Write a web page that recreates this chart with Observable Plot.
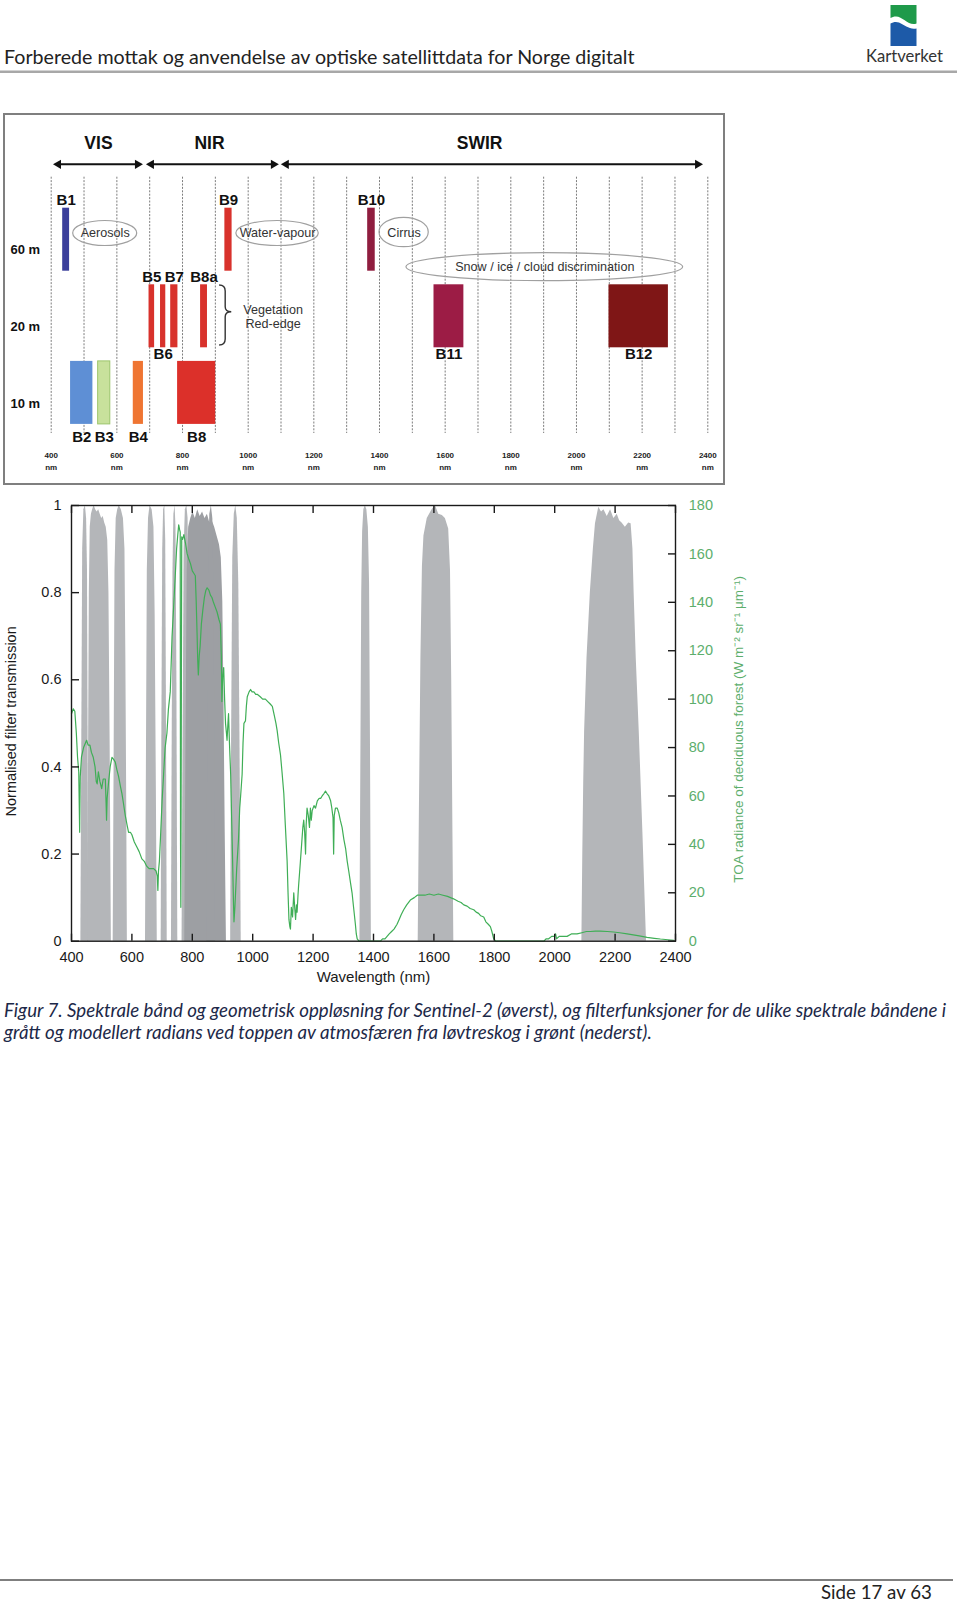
<!DOCTYPE html>
<html>
<head>
<meta charset="utf-8">
<script src="https://cdn.jsdelivr.net/npm/d3@7"></script>
<script src="https://cdn.jsdelivr.net/npm/@observablehq/plot@0.6"></script>
<style>
html, body { margin: 0; padding: 0; background: #fff; }
#page { position: relative; width: 960px; height: 1604px; overflow: hidden; background: #fff; }
#overlay { position: absolute; left: 0; top: 0; }
#upper { position: absolute; left: 3px; top: 113px; border: 2px solid #7f7f7f; width: 718px; height: 368px; }
#lower { position: absolute; left: 0; top: 487px; width: 760px; height: 500px; }
#upper svg, #lower svg { display: block; overflow: visible; }
</style>
</head>
<body>
<div id="page">
  <svg id="overlay" width="960" height="1604" xmlns="http://www.w3.org/2000/svg"></svg>
  <div id="upper"></div>
  <div id="lower"></div>
</div>
<script>
// ---------------- Page texts ----------------
const headerTitle = "Forberede mottak og anvendelse av optiske satellittdata for Norge digitalt";
const logoName = "Kartverket";
const captionLines = [
  "Figur 7. Spektrale bånd og geometrisk oppløsning for Sentinel-2 (øverst), og filterfunksjoner for de ulike spektrale båndene i",
  "grått og modellert radians ved toppen av atmosfæren fra løvtreskog i grønt (nederst)."
];
const footerText = "Side 17 av 63";

// ---------------- Upper panel data: Sentinel-2 bands ----------------
const bandNames      = ["B1", "B2", "B3", "B4", "B5", "B6", "B7", "B8", "B8a", "B9", "B10", "B11", "B12"];
const bandResolution = ["60 m", "10 m", "10 m", "10 m", "20 m", "20 m", "20 m", "10 m", "20 m", "60 m", "60 m", "20 m", "20 m"];
const bandStart      = [435, 459, 543, 650, 698, 733, 764, 785, 855, 929, 1364, 1566, 2099];
const bandEnd        = [456, 527, 580, 681, 715, 749, 786, 901, 876, 951, 1387, 1657, 2280];
const labelsAbove    = ["B1", "B9", "B10", "B5", "B7", "B8a"];
const resolutionRows = ["60 m", "20 m", "10 m"];

const regionNames   = ["VIS", "NIR", "SWIR"];
const regionStart   = [407, 690, 1101];
const regionEnd     = [681, 1095, 2387];
const regionLabelAt = [544, 882, 1705];

const gridWavelengths = [400, 500, 600, 700, 800, 900, 1000, 1100, 1200, 1300, 1400, 1500, 1600, 1700, 1800, 1900, 2000, 2100, 2200, 2300, 2400];
const upperTickWavelengths = [400, 600, 800, 1000, 1200, 1400, 1600, 1800, 2000, 2200, 2400];

const ellipseLabels = ["Aerosols", "Water-vapour", "Cirrus", "Snow / ice / cloud discrimination"];
const ellipseFrom   = [467, 964, 1400, 1482];
const ellipseTo     = [662, 1215, 1550, 2325];
const ellipseRow    = ["60 m", "60 m", "60 m", "20 m"];

const redEdgeLabel  = "Vegetation\nRed-edge";
const redEdgeLabelAt = 1076;
const redEdgeBrace  = [913, 950];

// ---------------- Lower panel data ----------------
const filterB1  = [[431,0],[434,0.45],[437,0.9],[441,0.99],[446,1.0],[450,0.97],[453,0.85],[455,0.45],[457,0]];
const filterB2  = [[453,0],[456,0.35],[459,0.8],[462,0.95],[466,0.98],[470,0.99],[475,1.0],[480,0.99],[485,0.985],[490,0.99],[495,0.98],[500,0.97],[505,0.975],[510,0.96],[515,0.95],[520,0.92],[524,0.8],[528,0.45],[532,0]];
const filterB3  = [[538,0],[541,0.4],[544,0.85],[548,0.97],[553,0.99],[558,1.0],[565,0.99],[572,0.97],[577,0.9],[580,0.65],[583,0.3],[585,0]];
const filterB4  = [[645,0],[648,0.4],[651,0.85],[655,0.97],[660,1.0],[667,0.99],[673,0.95],[677,0.75],[681,0.35],[684,0]];
const filterB5  = [[697,0],[699,0.45],[702,0.9],[705,0.99],[709,1.0],[712,0.92],[714,0.6],[716,0.2],[717,0]];
const filterB6  = [[731,0],[733,0.4],[736,0.85],[739,0.98],[743,1.0],[746,0.95],[749,0.6],[751,0.2],[752,0]];
const filterB7  = [[766,0],[769,0.4],[773,0.9],[777,0.99],[782,1.0],[786,0.97],[789,0.75],[792,0.3],[794,0]];
const filterB8  = [[775,0],[779,0.45],[783,0.85],[788,0.95],[795,0.97],[802,0.985],[810,0.97],[818,0.99],[826,0.975],[834,0.985],[842,0.97],[850,0.98],[858,0.96],[866,0.965],[874,0.95],[882,0.93],[890,0.91],[896,0.88],[901,0.78],[905,0.55],[909,0.25],[913,0]];
const filterB8a = [[848,0],[851,0.45],[854,0.88],[858,0.98],[863,1.0],[868,0.97],[872,0.8],[875,0.4],[877,0]];
const filterB9  = [[927,0],[930,0.45],[934,0.88],[939,0.98],[944,1.0],[949,0.97],[954,0.82],[958,0.45],[962,0]];
const filterB10 = [[1355,0],[1358,0.4],[1361,0.8],[1364,0.94],[1368,0.99],[1373,1.0],[1378,0.99],[1383,0.95],[1387,0.82],[1390,0.45],[1393,0]];
const filterB11 = [[1548,0],[1552,0.3],[1557,0.65],[1562,0.86],[1567,0.93],[1578,0.97],[1594,0.99],[1605,1.0],[1616,0.98],[1628,0.977],[1638,0.97],[1649,0.946],[1655,0.85],[1659,0.6],[1663,0.25],[1666,0]];
const filterB12 = [[2090,0],[2093,0.2],[2096,0.36],[2099,0.48],[2107,0.65],[2118,0.8],[2128,0.9],[2135,0.958],[2146,0.996],[2155,0.985],[2163,0.99],[2174,0.975],[2185,0.99],[2196,0.97],[2207,0.98],[2215,0.965],[2223,0.96],[2234,0.95],[2245,0.96],[2253,0.958],[2259,0.9],[2263,0.8],[2270,0.65],[2280,0.48],[2292,0.25],[2304,0]];
const darkFilterBands = ["B8", "B8a"];

// TOA radiance of deciduous forest, [wavelength nm, W m-2 sr-1 um-1]
const radiance = [
[400,94],[406,96],[411,95],[416,86],[420,76],[424,70],[427,45],[429,68],[433,76],[440,80],[450,83],[455,81],[461,81],[466,78],[472,76],[478,72],[482,66],[485,65],[489,70],[494,66],[500,63],[505,67],[512,67],[515,55],[516,50],[518,59],[523,66],[528,72],[534,76],[540,75],[545,74],[550,71],[556,68],[562,64],[567,61],[572,57],[578,52],[584,48],[589,45],[595,45],[600,44],[608,41],[616,39],[624,37],[633,34],[641,33],[649,31],[657,30],[666,30],[672,30],[680,29],[684,27],[686,21],[688,29],[691,33],[694,41],[700,58],[705,69],[710,80],[716,86],[721,96],[727,103],[733,126],[739,140],[744,152],[748,162],[752,168],[755,172],[758,170],[760,169],[761,40],[762,14],[763,60],[765,167],[768,166],[772,168],[778,164],[783,160],[788,158],[794,156],[800,153],[805,152],[810,151],[813,140],[816,126],[818,116],[820,110],[823,118],[826,122],[830,131],[835,137],[840,142],[845,145],[849,146],[855,145],[860,143],[865,142],[870,140],[876,138],[882,136],[888,133],[893,131],[896,118],[898,99],[901,110],[904,113],[907,100],[910,90],[913,86],[915,83],[918,90],[920,94],[923,82],[927,69],[930,52],[933,36],[936,18],[938,8],[941,14],[944,22],[947,30],[949,34],[953,42],[957,55],[960,60],[965,69],[968,82],[971,90],[976,91],[979,97],[982,101],[988,103],[993,104],[998,103],[1004,103],[1010,102],[1015,102],[1025,101],[1033,100],[1042,100],[1050,99],[1058,98],[1065,97],[1072,93],[1077,90],[1081,87],[1086,82],[1092,77],[1097,70],[1103,61],[1108,48],[1114,33],[1117,20],[1120,9],[1123,6],[1125,5],[1128,14],[1132,10],[1136,20],[1139,14],[1142,9],[1145,15],[1147,12],[1150,19],[1152,23],[1155,28],[1158,33],[1162,40],[1166,47],[1169,50],[1172,45],[1175,36],[1177,48],[1180,55],[1184,52],[1188,47],[1191,55],[1194,50],[1197,54],[1203,56],[1208,55],[1214,58],[1220,59],[1225,59],[1230,60],[1236,61],[1241,62],[1246,61],[1252,60],[1258,58],[1262,55],[1266,51],[1268,36],[1270,52],[1274,55],[1280,55],[1285,53],[1290,50],[1296,47],[1302,42],[1308,38],[1313,33],[1318,29],[1324,24],[1329,20],[1334,14],[1340,7],[1343,3],[1346,1],[1352,0],[1380,0],[1423,0],[1430,1],[1438,1],[1445,2],[1452,3],[1460,4],[1468,5],[1478,7],[1485,9],[1492,11],[1500,13],[1510,15],[1522,17],[1535,18],[1545,19],[1556,19],[1570,19],[1585,19.5],[1600,19],[1615,19.5],[1630,19],[1645,18.5],[1655,18],[1665,17.5],[1680,16.5],[1690,16],[1699,15],[1710,14.5],[1720,13.5],[1732,13],[1740,12],[1748,11.5],[1755,10.5],[1765,10],[1772,8],[1780,7],[1787,6],[1792,4],[1798,1],[1805,0],[1964,0],[1972,1],[1980,1],[1990,2],[1998,2],[2003,3],[2006,1],[2015,2],[2025,2],[2041,2],[2055,3],[2074,3],[2090,3.5],[2105,4],[2118,4],[2135,4.2],[2150,4.2],[2174,4],[2195,3.8],[2215,3.5],[2240,3],[2260,2.6],[2280,2.2],[2306,1.6],[2330,1.2],[2350,0.9],[2375,0.6],[2394,0.4]
];
const radianceMax = 180;
const lowerXTicks = [400, 600, 800, 1000, 1200, 1400, 1600, 1800, 2000, 2200, 2400];
const transmissionTicks = [0, 0.2, 0.4, 0.6, 0.8, 1];
const radianceTicks = [0, 20, 40, 60, 80, 100, 120, 140, 160, 180];
const xLabel = "Wavelength (nm)";
const yLabel = "Normalised filter transmission";
const y2Label = "TOA radiance of deciduous forest (W m\u207B\u00B2 sr\u207B\u00B9 \u03BCm\u207B\u00B9)";

// ---------------- Styles ----------------
const FONT = "'Liberation Sans', Arial, Helvetica, sans-serif";
const PAGEFONT = "Lato, 'Open Sans', sans-serif";
const bandFill = {B1: "#3b3f9b", B2: "#5e8fd5", B3: "#c8e19c", B4: "#ef7532", B5: "#d8322c", B6: "#d8322c", B7: "#d8322c",
  B8: "#dc302a", B8a: "#d8322c", B9: "#d8322c", B10: "#8f1d3f", B11: "#9c1c45", B12: "#7f1616"};
const GREEN = "#3fae56";
const GREEN_TEXT = "#5cae6c";

// ---------------- Page overlay (header, caption, footer) ----------------
const NS = "http://www.w3.org/2000/svg";
const ov = document.getElementById("overlay");
function el(name, attrs) {
  const e = document.createElementNS(NS, name);
  for (const k in attrs) e.setAttribute(k, attrs[k]);
  ov.appendChild(e);
  return e;
}
function fitText(str, x, y, width, attrs) {
  const t = el("text", Object.assign({x, y, "font-size": 20}, attrs));
  t.textContent = str;
  const w = t.getComputedTextLength();
  const size = 20 * width / w;
  t.setAttribute("font-size", size);
  return size;
}
fitText(headerTitle, 4, 63.5, 631, {"font-family": PAGEFONT, fill: "#222"});
el("line", {x1: 0, x2: 957, y1: 71.8, y2: 71.8, stroke: "#a8a8a8", "stroke-width": 2.6});
el("path", {d: "M890.5,5L916.5,5L916.5,23.5C909,26.5 903,16.5 896,16.5C893.8,16.5 892,17.2 890.5,18Z", fill: "#1f9a4a"});
el("path", {d: "M890.5,23.5C893,22 896,21.5 899,22.5C905,25 909.5,30 916.5,28.5L916.5,46L890.5,46Z", fill: "#1d5aa8"});
fitText(logoName, 866, 62, 77, {"font-family": PAGEFONT, fill: "#333"});
const capSize = fitText(captionLines[0], 4, 1016.5, 943, {"font-family": PAGEFONT, "font-style": "italic", fill: "#1c2848"});
const cap2 = el("text", {x: 4, y: 1039, "font-size": capSize, "font-family": PAGEFONT, "font-style": "italic", fill: "#1c2848"});
cap2.textContent = captionLines[1];
el("line", {x1: 0, x2: 953, y1: 1580, y2: 1580, stroke: "#555", "stroke-width": 1.3});
fitText(footerText, 821, 1598.5, 111, {"font-family": PAGEFONT, fill: "#222"});

// ---------------- Upper panel ----------------
const bands = bandNames.map((b, i) => ({band: b, res: bandResolution[i], start: bandStart[i], end: bandEnd[i]}));
const regions = regionNames.map((n, i) => ({name: n, start: regionStart[i], end: regionEnd[i], labelAt: regionLabelAt[i]}));
const ellipses = ellipseLabels.map((l, i) => ({label: l, from: ellipseFrom[i], to: ellipseTo[i], row: ellipseRow[i]}));
const ellipseOffset = [-6.2, -6.2, -7.2, -49.1];
const ellipseRy = [12.5, 12.5, 14.7, 14];

function upperAnnotations(index, scales, values, dimensions) {
  const x = scales.x, y = scales.y;
  const bw = y && typeof y.bandwidth === "function" ? y.bandwidth() : 63;
  const rowMid = r => y(r) + bw / 2;
  const top = dimensions.marginTop;
  const g = d3.create("svg:g");
  const ay = top - 43.4;
  for (const r of regions) {
    const x0 = x(r.start), x1 = x(r.end), h = 8, w = 4.6;
    g.append("line").attr("x1", x0 + h - 1).attr("x2", x1 - h + 1).attr("y1", ay).attr("y2", ay)
      .attr("stroke", "#111").attr("stroke-width", 2);
    g.append("path").attr("d", `M${x0},${ay}L${x0 + h},${ay - w}L${x0 + h},${ay + w}Z`).attr("fill", "#111");
    g.append("path").attr("d", `M${x1},${ay}L${x1 - h},${ay - w}L${x1 - h},${ay + w}Z`).attr("fill", "#111");
  }
  ellipses.forEach((e, i) => {
    const cx = (x(e.from) + x(e.to)) / 2, rx = (x(e.to) - x(e.from)) / 2;
    g.append("ellipse").attr("cx", cx).attr("cy", rowMid(e.row) + ellipseOffset[i])
      .attr("rx", rx).attr("ry", ellipseRy[i]).attr("fill", "none").attr("stroke", "#a0a0a0").attr("stroke-width", 1.2);
  });
  const c = rowMid("20 m");
  const bx0 = x(redEdgeBrace[0]), bx1 = x(redEdgeBrace[1]), bxm = (bx0 + bx1) / 2;
  const yT = c - 30.8, yC = c - 4, yB = c + 29.2;
  g.append("path")
    .attr("d", `M${bx0},${yT}Q${bxm},${yT} ${bxm},${yT + 6}L${bxm},${yC - 5}Q${bxm},${yC} ${bx1},${yC}Q${bxm},${yC} ${bxm},${yC + 5}L${bxm},${yB - 6}Q${bxm},${yB} ${bx0},${yB}`)
    .attr("fill", "none").attr("stroke", "#333").attr("stroke-width", 1.4);
  return g.node();
}

const above = d => labelsAbove.includes(d.band);
const bandLabel = {x: d => (d.start + d.end) / 2, y: "res", text: "band", fontSize: 15, fontWeight: "bold", fill: "#111"};
const upper = Plot.plot({
  width: 718, height: 368,
  marginLeft: 45.7, marginRight: 15.7, marginTop: 92.7, marginBottom: 59.1,
  x: {domain: [400, 2400], axis: null},
  y: {type: "band", domain: resolutionRows, paddingInner: 0.1775, paddingOuter: 0, round: false, axis: null},
  color: {type: "identity"},
  style: {fontFamily: FONT, background: "transparent", color: "#111"},
  marks: [
    Plot.ruleX(gridWavelengths, {x: d => d, stroke: "#7d7d7d", strokeWidth: 1, strokeDasharray: "2,1.4", insetTop: -31, insetBottom: -9.1}),
    upperAnnotations,
    Plot.barX(bands, {x1: "start", x2: "end", y: "res", fill: d => bandFill[d.band]}),
    Plot.barX(bands.filter(d => d.band === "B3"), {x1: "start", x2: "end", y: "res", fill: "none", stroke: "#9cc56c", strokeWidth: 1}),
    Plot.text(bands.filter(above), {...bandLabel, dy: -39.3}),
    Plot.text(bands.filter(d => !above(d) && d.res === "20 m"), {...bandLabel, dy: 38.2}),
    Plot.text(bands.filter(d => !above(d) && d.res === "10 m"), {...bandLabel, dy: 44.6}),
    Plot.text(resolutionRows, {y: d => d, text: d => d, frameAnchor: "left", textAnchor: "start", lineAnchor: "middle", dx: -40.7, dy: 10.5, fontWeight: "bold", fontSize: 13, fill: "#111"}),
    Plot.text(regions, {x: "labelAt", text: "name", frameAnchor: "top", lineAnchor: "middle", dy: -64.4, fontSize: 17.5, fontWeight: "bold", fill: "#111"}),
    Plot.text(ellipses.filter(e => e.row === "60 m"), {x: e => (e.from + e.to) / 2, y: "row", text: "label", dy: -6.5, fontSize: 12.6, fill: "#333"}),
    Plot.text(ellipses.filter(e => e.row === "20 m"), {x: e => (e.from + e.to) / 2, y: "row", text: "label", dy: -49.1, fontSize: 12.6, fill: "#333"}),
    Plot.text([redEdgeLabel], {x: () => redEdgeLabelAt, y: () => "20 m", text: d => d, dy: 0.3, fontSize: 12.6, lineHeight: 1.14, fill: "#333"}),
    Plot.text(upperTickWavelengths, {x: d => d, text: d => `${d}\nnm`, frameAnchor: "bottom", lineAnchor: "top", dy: 25.5, fontSize: 8, fontWeight: "bold", lineHeight: 1.45, fill: "#222"})
  ]
});
document.getElementById("upper").appendChild(upper);

// ---------------- Lower panel ----------------
const filterCurves = {B1: filterB1, B2: filterB2, B3: filterB3, B4: filterB4, B5: filterB5, B6: filterB6, B7: filterB7,
  B8: filterB8, B8a: filterB8a, B9: filterB9, B10: filterB10, B11: filterB11, B12: filterB12};
const filterRows = [];
for (const [band, pts] of Object.entries(filterCurves)) for (const [wl, t] of pts) filterRows.push({band, wl, t});

const lower = Plot.plot({
  width: 760, height: 500,
  marginLeft: 71, marginRight: 85, marginTop: 18, marginBottom: 46.3,
  x: {domain: [400, 2400]},
  y: {domain: [0, 1]},
  color: {type: "identity"},
  style: {fontFamily: FONT, fontSize: "14.5px", background: "transparent", color: "#1a1a1a"},
  marks: [
    Plot.areaY(filterRows.filter(d => !darkFilterBands.includes(d.band)), {x: "wl", y1: 0, y2: "t", z: "band", fill: "#b4b6b9"}),
    Plot.areaY(filterRows.filter(d => darkFilterBands.includes(d.band)), {x: "wl", y1: 0, y2: "t", z: "band", fill: "#9d9fa3"}),
    Plot.line(radiance, {x: d => d[0], y: d => d[1] / radianceMax, stroke: GREEN, strokeWidth: 1.2}),
    Plot.frame({stroke: "#1a1a1a", strokeWidth: 1.4}),
    Plot.axisX({anchor: "bottom", ticks: lowerXTicks, tickSize: -7, tickPadding: 17.8, tickFormat: d => String(d), label: null, fontSize: 14.5, strokeWidth: 1.4}),
    Plot.axisX({anchor: "top", ticks: lowerXTicks, tickSize: -7, tickFormat: () => "", label: null, strokeWidth: 1.4}),
    Plot.axisY({anchor: "left", ticks: transmissionTicks, tickSize: -8, tickPadding: 18, tickFormat: d => String(d), label: null, fontSize: 14.5, strokeWidth: 1.4}),
    Plot.axisY({anchor: "right", ticks: radianceTicks.map(r => r / radianceMax), tickSize: -8, tickPadding: 21.3,
      tickFormat: d => String(Math.round(d * radianceMax)), textAnchor: "start", fill: GREEN_TEXT, stroke: "#1a1a1a", label: null, fontSize: 14.5, strokeWidth: 1.4}),
    Plot.text([yLabel], {text: d => d, frameAnchor: "left", textAnchor: "middle", lineAnchor: "middle", dx: -60, dy: -2, rotate: -90, fontSize: 14.5, fill: "#1a1a1a"}),
    Plot.text([xLabel], {text: d => d, frameAnchor: "bottom", lineAnchor: "middle", dy: 36.3, fontSize: 15, fill: "#1a1a1a"}),
    Plot.text([y2Label], {text: d => d, frameAnchor: "right", textAnchor: "middle", lineAnchor: "middle", dx: 63, dy: 6, rotate: -90, fontSize: 13.5, fill: GREEN_TEXT})
  ]
});
document.getElementById("lower").appendChild(lower);
</script>
</body>
</html>
